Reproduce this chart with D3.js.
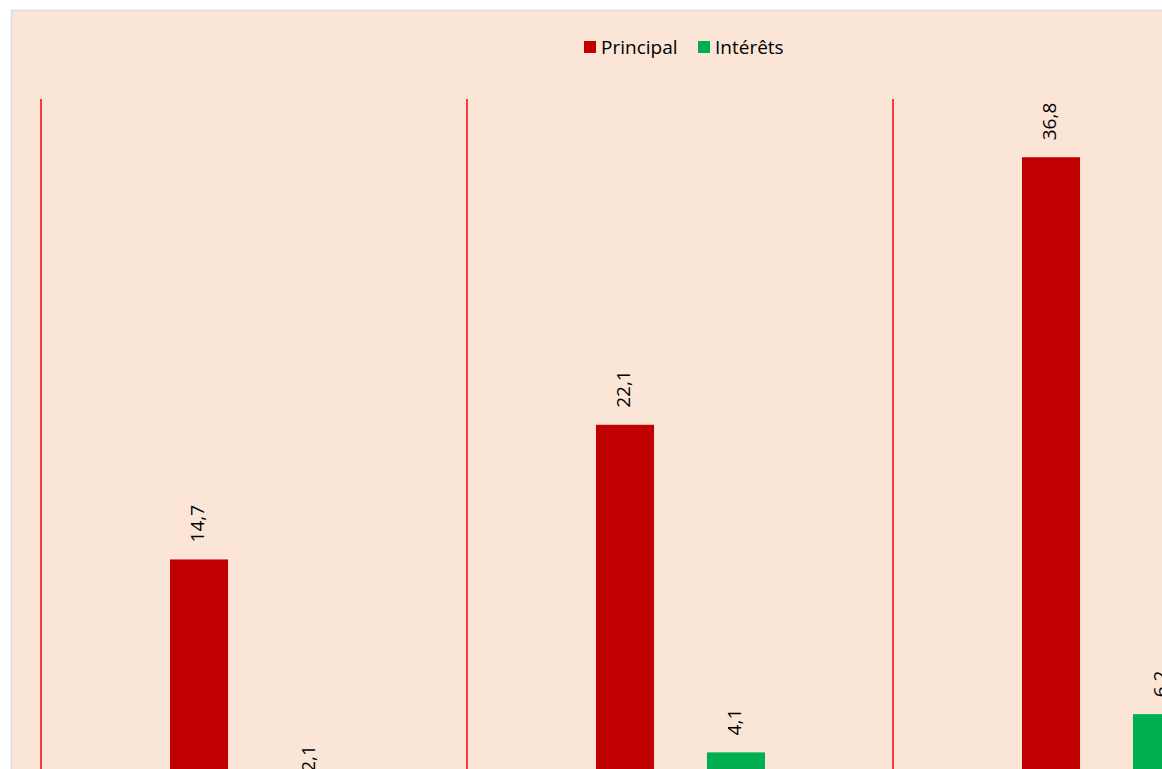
<!DOCTYPE html>
<html>
<head>
<meta charset="utf-8">
<script src="https://cdn.jsdelivr.net/npm/d3@7"></script>
<style>
    body { margin: 0; background: #ffffff; overflow: hidden; }
    text { font-family: "Open Sans", Lato, sans-serif; fill: #000; }
</style>
</head>
<body>
<script>
(function(){

    //chart data
    var categories = ["Période 1", "Période 2", "Période 3"];
    var series = ["Principal", "Intérêts"];
    var principal = [14.7, 22.1, 36.8];
    var interets = [2.1, 4.1, 6.2];
    var colors = ["#C00000", "#00B050"];

    window.onload = setChart();

    function setChart(){

        var width = 1162,
            height = 769;

        var svg = d3.select("body")
            .append("svg")
            .attr("width", width)
            .attr("height", height);

        //chart area background with border (runs off the right and bottom)
        svg.append("rect")
            .attr("x", 11.5)
            .attr("y", 10.5)
            .attr("width", 1300)
            .attr("height", 900)
            .style("fill", "#FBE5D7")
            .style("stroke", "#D9D9D9")
            .style("stroke-width", 1.5);

        var plotLeft = 41,
            plotTop = 99,
            plotBottom = 827;

        var x0 = d3.scaleBand()
            .domain(categories)
            .range([plotLeft, plotLeft + 426 * categories.length]);

        var x1 = d3.scaleBand()
            .domain(series)
            .range([129, 298])
            .paddingInner(0.477);

        var y = d3.scaleLinear()
            .domain([0, 40])
            .range([plotBottom, plotTop]);

        //red separators between categories
        svg.selectAll(".sep")
            .data(categories)
            .enter()
            .append("line")
            .attr("class", "sep")
            .attr("x1", function(d){ return x0(d); })
            .attr("x2", function(d){ return x0(d); })
            .attr("y1", plotTop)
            .attr("y2", plotBottom)
            .style("stroke", "#FF0000")
            .style("stroke-width", 1.5);

        //build rows
        var rows = [];
        categories.forEach(function(c, i){
            rows.push({cat: c, key: series[0], val: principal[i], color: colors[0]});
            rows.push({cat: c, key: series[1], val: interets[i], color: colors[1]});
        });

        svg.selectAll(".bar")
            .data(rows)
            .enter()
            .append("rect")
            .attr("class", "bar")
            .attr("x", function(d){ return x0(d.cat) + x1(d.key); })
            .attr("width", x1.bandwidth())
            .attr("y", function(d){ return y(d.val); })
            .attr("height", function(d){ return y(0) - y(d.val); })
            .style("fill", function(d){ return d.color; });

        var fmt = function(v){ return d3.format(".1f")(v).replace(".", ","); };

        svg.selectAll(".lbl")
            .data(rows)
            .enter()
            .append("text")
            .attr("class", "lbl")
            .attr("transform", function(d){
                var cx = x0(d.cat) + x1(d.key) + x1.bandwidth() / 2;
                return "translate(" + cx + "," + (y(d.val) - 17) + ") rotate(-90)";
            })
            .attr("dominant-baseline", "middle")
            .style("font-size", "19px")
            .text(function(d){ return fmt(d.val); });

        //legend
        var legend = svg.append("g")
            .attr("class", "legend");

        var legX = [584, 698];
        series.forEach(function(s, i){
            legend.append("rect")
                .attr("x", legX[i])
                .attr("y", 41)
                .attr("width", 12)
                .attr("height", 12)
                .style("fill", colors[i]);
            legend.append("text")
                .attr("x", legX[i] + 17)
                .attr("y", 54)
                .style("font-size", "19px")
                .text(s);
        });
    };

})();
</script>
</body>
</html>
